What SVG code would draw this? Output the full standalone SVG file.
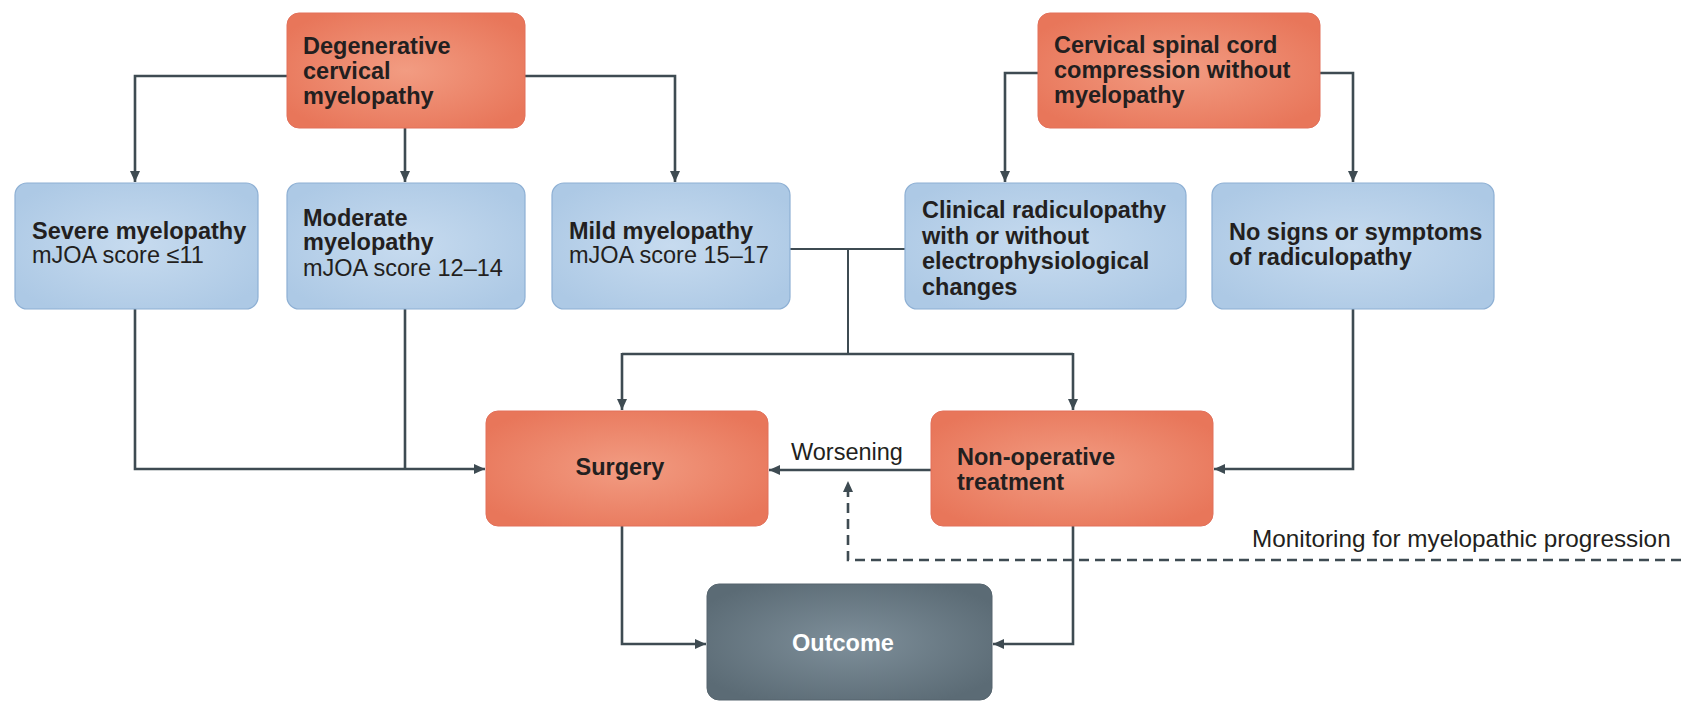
<svg xmlns="http://www.w3.org/2000/svg" width="1681" height="704" viewBox="0 0 1681 704">
<defs>
<radialGradient id="gOr" cx="50%" cy="50%" r="60%">
<stop offset="0" stop-color="#f29c82"/>
<stop offset="1" stop-color="#e8765a"/>
</radialGradient>
<radialGradient id="gBl" cx="50%" cy="50%" r="60%">
<stop offset="0" stop-color="#c7dbef"/>
<stop offset="1" stop-color="#adc9e5"/>
</radialGradient>
<radialGradient id="gGr" cx="50%" cy="50%" r="60%">
<stop offset="0" stop-color="#7e8f9a"/>
<stop offset="1" stop-color="#5b6b75"/>
</radialGradient>
<marker id="arr" markerUnits="userSpaceOnUse" markerWidth="11" markerHeight="10" refX="11" refY="5" orient="auto">
<path d="M0,0 L11,5 L0,10 Z" fill="#3e4b52"/>
</marker>
</defs>
<style>
.or{fill:url(#gOr);stroke:#e2705a;stroke-width:1}
.bl{fill:url(#gBl);stroke:#8eb0d4;stroke-width:1.2}
.gr{fill:url(#gGr);stroke:#56656e;stroke-width:1}
.t{font-family:"Liberation Sans",Arial,sans-serif;font-size:23.5px;fill:#231f20}
.b{font-weight:bold}
.w{fill:#ffffff}
.ln{fill:none;stroke:#3e4b52;stroke-width:2.6}
.thin{stroke-width:2}
.ar{marker-end:url(#arr)}
.dash{stroke-dasharray:10 6}
</style>

<g id="connectors">
<path class="ln ar" d="M287,76 H135 V182"/>
<path class="ln ar" d="M405,128 V182"/>
<path class="ln ar" d="M525,76 H675 V182"/>
<path class="ln ar" d="M1038,73 H1005 V182"/>
<path class="ln ar" d="M1320,73 H1353 V182"/>
<path class="ln thin" d="M790,249 H905"/>
<path class="ln thin" d="M848,249 V354"/>
<path class="ln" d="M622,354 H1073"/>
<path class="ln ar" d="M622,353 V410"/>
<path class="ln ar" d="M1073,353 V410"/>
<path class="ln ar" d="M135,309 V469 H485"/>
<path class="ln" d="M405,309 V469"/>
<path class="ln ar" d="M1353,309 V469 H1214"/>
<path class="ln ar" d="M931,470 H769"/>
<path class="ln ar dash" d="M1681,560 H848 V481"/>
<path class="ln ar" d="M622,526 V644 H706"/>
<path class="ln ar" d="M1073,526 V644 H993"/>
<text class="t" x="791" y="460">Worsening</text>
<text class="t" x="1252" y="547" style="font-size:24.3px">Monitoring for myelopathic progression</text>
</g>

<g id="dcm">
<rect class="or" x="287" y="13" width="238" height="115" rx="12"/>
<text class="t b" x="303" y="54">Degenerative</text>
<text class="t b" x="303" y="79">cervical</text>
<text class="t b" x="303" y="104">myelopathy</text>
</g>

<g id="cscc">
<rect class="or" x="1038" y="13" width="282" height="115" rx="12"/>
<text class="t b" x="1054" y="53">Cervical spinal cord</text>
<text class="t b" x="1054" y="78">compression without</text>
<text class="t b" x="1054" y="103">myelopathy</text>
</g>

<g id="severe">
<rect class="bl" x="15" y="183" width="243" height="126" rx="12"/>
<text class="t b" x="32" y="239">Severe myelopathy</text>
<text class="t" x="32" y="263">mJOA score ≤11</text>
</g>

<g id="moderate">
<rect class="bl" x="287" y="183" width="238" height="126" rx="12"/>
<text class="t b" x="303" y="226">Moderate</text>
<text class="t b" x="303" y="250">myelopathy</text>
<text class="t" x="303" y="276">mJOA score 12–14</text>
</g>

<g id="mild">
<rect class="bl" x="552" y="183" width="238" height="126" rx="12"/>
<text class="t b" x="569" y="239">Mild myelopathy</text>
<text class="t" x="569" y="263">mJOA score 15–17</text>
</g>

<g id="clinical">
<rect class="bl" x="905" y="183" width="281" height="126" rx="12"/>
<text class="t b" x="922" y="218">Clinical radiculopathy</text>
<text class="t b" x="922" y="243.5">with or without</text>
<text class="t b" x="922" y="269">electrophysiological</text>
<text class="t b" x="922" y="294.5">changes</text>
</g>

<g id="nosigns">
<rect class="bl" x="1212" y="183" width="282" height="126" rx="12"/>
<text class="t b" x="1229" y="240">No signs or symptoms</text>
<text class="t b" x="1229" y="265">of radiculopathy</text>
</g>

<g id="surgery">
<rect class="or" x="486" y="411" width="282" height="115" rx="12"/>
<text class="t b" x="620" y="475" text-anchor="middle">Surgery</text>
</g>

<g id="nonop">
<rect class="or" x="931" y="411" width="282" height="115" rx="12"/>
<text class="t b" x="957" y="465">Non-operative</text>
<text class="t b" x="957" y="490">treatment</text>
</g>

<g id="outcome">
<rect class="gr" x="707" y="584" width="285" height="116" rx="12"/>
<text class="t b w" x="843" y="651" text-anchor="middle">Outcome</text>
</g>
</svg>
